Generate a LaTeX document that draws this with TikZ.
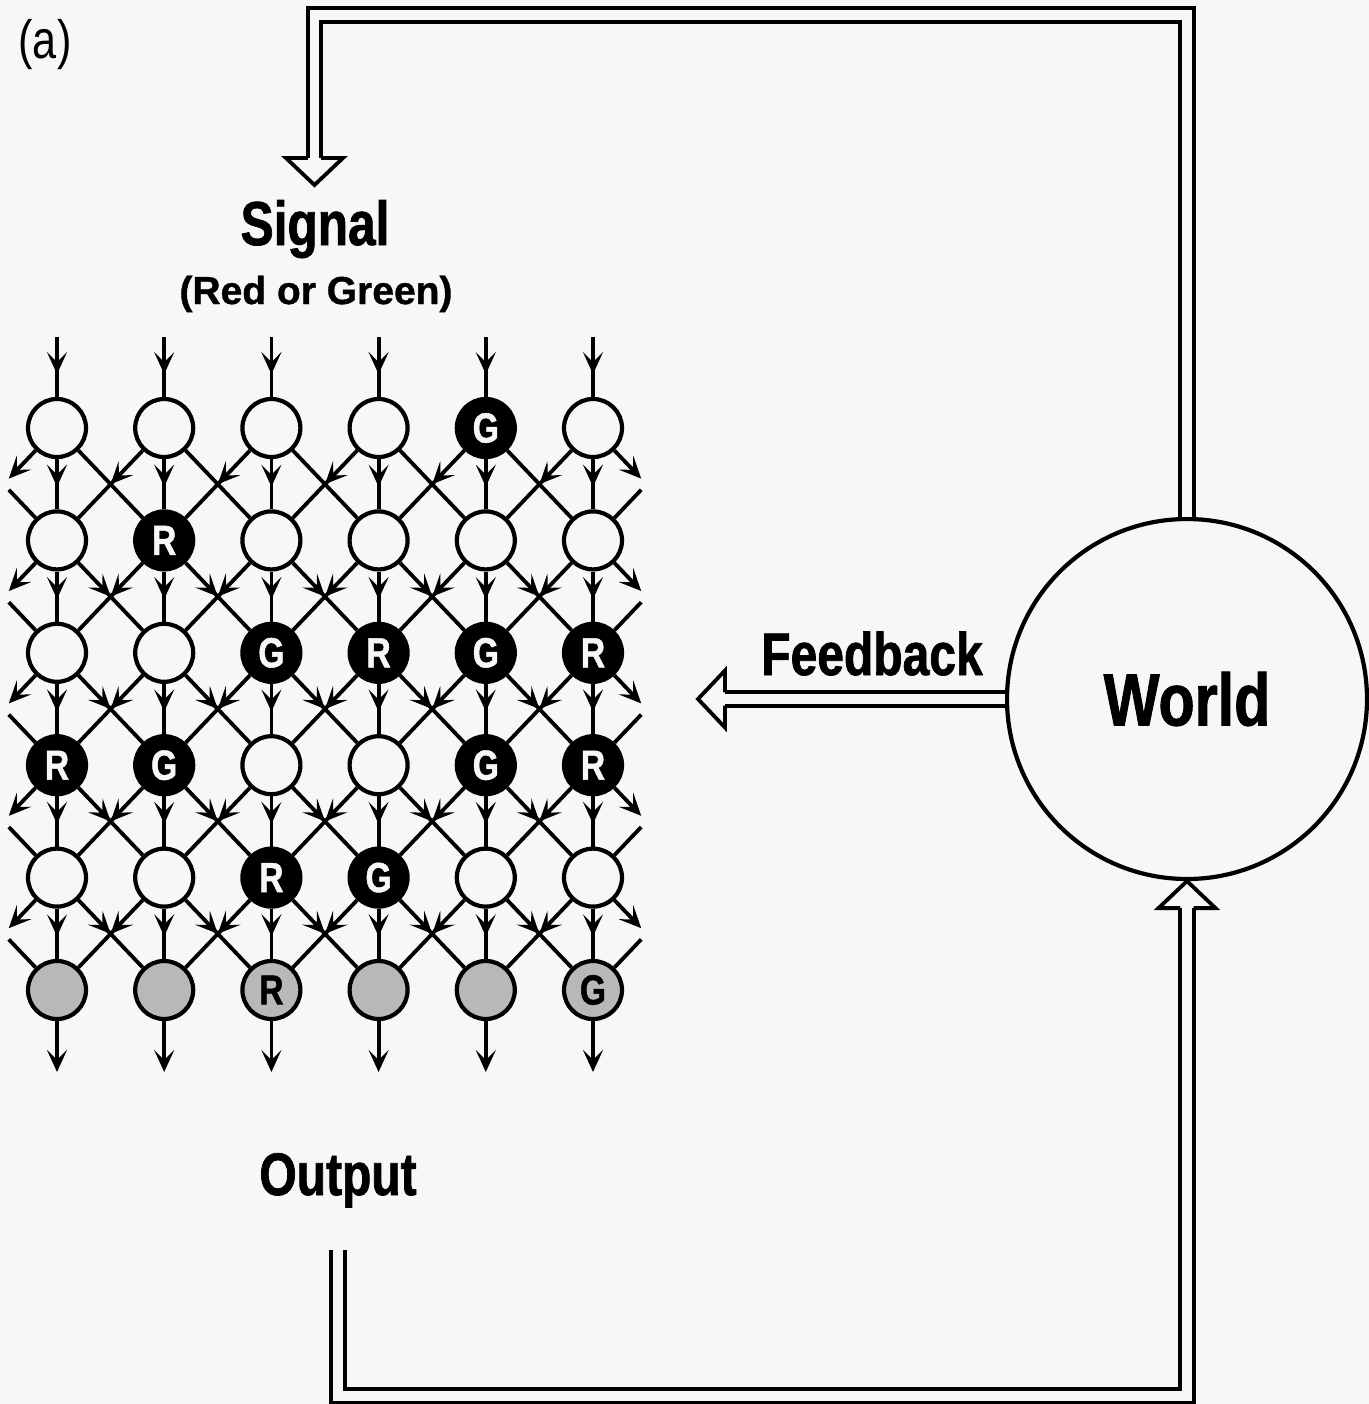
\documentclass[tikz,border=0pt]{standalone}
\usepackage{fontspec}
\usepackage{tikz}
\usetikzlibrary{arrows.meta,calc,decorations.markings}
\newfontfamily\cond[FakeStretch=0.8]{Liberation Sans}
\newfontfamily\heavy[FakeStretch=0.8,FakeBold=1.2]{Liberation Sans}
\newfontfamily\wide[FakeBold=1]{Liberation Sans}
\definecolor{paper}{RGB}{247,247,247}
\newcommand\cellname[1]{\if#1o\else#1\fi}

\begin{document}
\begin{tikzpicture}[x=0.5pt,y=-0.5pt,
    >={Stealth[length=11pt,width=10pt,inset=5pt]},
    cell/.style={circle,draw,line width=2.1pt,minimum size=29pt,inner sep=0pt,fill=paper,
      font=\heavy\bfseries\fontsize{21}{21}\selectfont},
    st o/.style={cell},
    st R/.style={cell,fill=black,text=paper},
    st G/.style={st R},
    out o/.style={cell,fill=black!28},
    out R/.style={out o},
    out G/.style={out o},
    net/.style={line width=1.9pt},
    midarrow/.style={postaction={decorate},decoration={markings,mark=at position #1 with {\arrow{>}}}},
    dbl/.style={line width=1.9pt,double=paper,double distance=4.8pt,line join=miter},
    openhead/.pic={\draw[line width=1.9pt,line join=miter] (-27,6.7) -- (-27,28.5) -- (0,0) -- (-27,-28.5) -- (-27,-6.7);},
    title/.style={anchor=base,font=\heavy\bfseries\fontsize{31}{31}\selectfont}]
	\useasboundingbox (0,0) rectangle (1369,1404);
	\fill[paper] (0,0) rectangle (1369,1404);
	\node[font=\cond\fontsize{27}{27}\selectfont] (tag) at (45,45) {(a)};
	\foreach \rowlist [count=\ri] in {{o,o,o,o,G,o},{o,R,o,o,o,o},{o,o,G,R,G,R},{R,G,o,o,G,R},{o,o,R,G,o,o}}{
		\foreach \s [count=\ci] in \rowlist
		\node[st \s] (n-\ri-\ci) at ({57+107.2*(\ci-1)},{428+112.4*(\ri-1)}) {\cellname{\s}};
	}
	\foreach \s [count=\ci] in {o,o,R,o,o,G}
	\node[out \s] (n-6-\ci) at ({57+107.2*(\ci-1)},990) {\cellname{\s}};
	\foreach \ci in {1,...,6}{
		\coordinate (in-\ci) at ({57+107.2*(\ci-1)},337);
		\coordinate (out-\ci) at ({57+107.2*(\ci-1)},1072);
		\draw[net,midarrow=0.62] (in-\ci) -- (n-1-\ci);
		\draw[net,->] (n-6-\ci) -- (out-\ci);
	}
	\foreach \ri in {1,...,5}{
		\pgfmathtruncatemacro\nr{\ri+1}
		\foreach \ci in {1,...,6}{
			\pgfmathtruncatemacro\lc{\ci-1}
			\pgfmathtruncatemacro\rc{\ci+1}
			\draw[net,midarrow=0.55] (n-\ri-\ci) -- (n-\nr-\ci);
			\ifnum\ci>1 \draw[net,midarrow=0.5] (n-\ri-\ci) -- (n-\nr-\lc); \fi
			\ifnum\ci<6
			\ifnum\ri=1 \draw[net] (n-\ri-\ci) -- (n-\nr-\rc);
			\else \draw[net,midarrow=0.5] (n-\ri-\ci) -- (n-\nr-\rc); \fi
			\fi
		}
		% wrap-around at the edges
		\draw[net,->] (n-\ri-1) -- ($(n-\ri-1)+(-48.2,50.6)$);
		\draw[net,->] (n-\ri-6) -- ($(n-\ri-6)+(48.2,50.6)$);
		\draw[net] ($(n-\nr-1)+(-48.2,-50.6)$) -- (n-\nr-1);
		\draw[net] ($(n-\nr-6)+(48.2,-50.6)$) -- (n-\nr-6);
	}
	\node[title] (signal) at (315,245) {Signal};
	\node[anchor=base,font=\wide\bfseries\fontsize{19.5}{19.5}\selectfont] (colour) at (316,304) {(Red or Green)};
	\node[title,font=\heavy\bfseries\fontsize{30}{30}\selectfont] (fb) at (872,675) {Feedback};
	\node[title,font=\heavy\bfseries\fontsize{30}{30}\selectfont] (output) at (338,1195) {Output};
	\node[circle,draw,line width=2.1pt,minimum size=180pt,font=\heavy\bfseries\fontsize{37}{37}\selectfont] (world) at (1187,699) {World};
	\coordinate (top) at (0,15);
	\coordinate (bot) at (0,1396);
	\coordinate (sigtip) at (314.5,185);
	\coordinate (fbtip) at (698,699);
	\coordinate (outstart) at (338,1250);
	\draw[dbl] (world.north) -- (world.north |- top) -- (sigtip |- top) -- ($(sigtip)+(0,-27)$);
	\pic[rotate=-90] at (sigtip) {openhead};
	\draw[dbl] (world.west) -- ($(fbtip)+(27,0)$);
	\pic[rotate=180] at (fbtip) {openhead};
	\draw[dbl] (outstart) -- (outstart |- bot) -- (world.south |- bot) -- ($(world.south)+(0,27)$);
	\pic[rotate=90] at (world.south) {openhead};
\end{tikzpicture}
\end{document}
